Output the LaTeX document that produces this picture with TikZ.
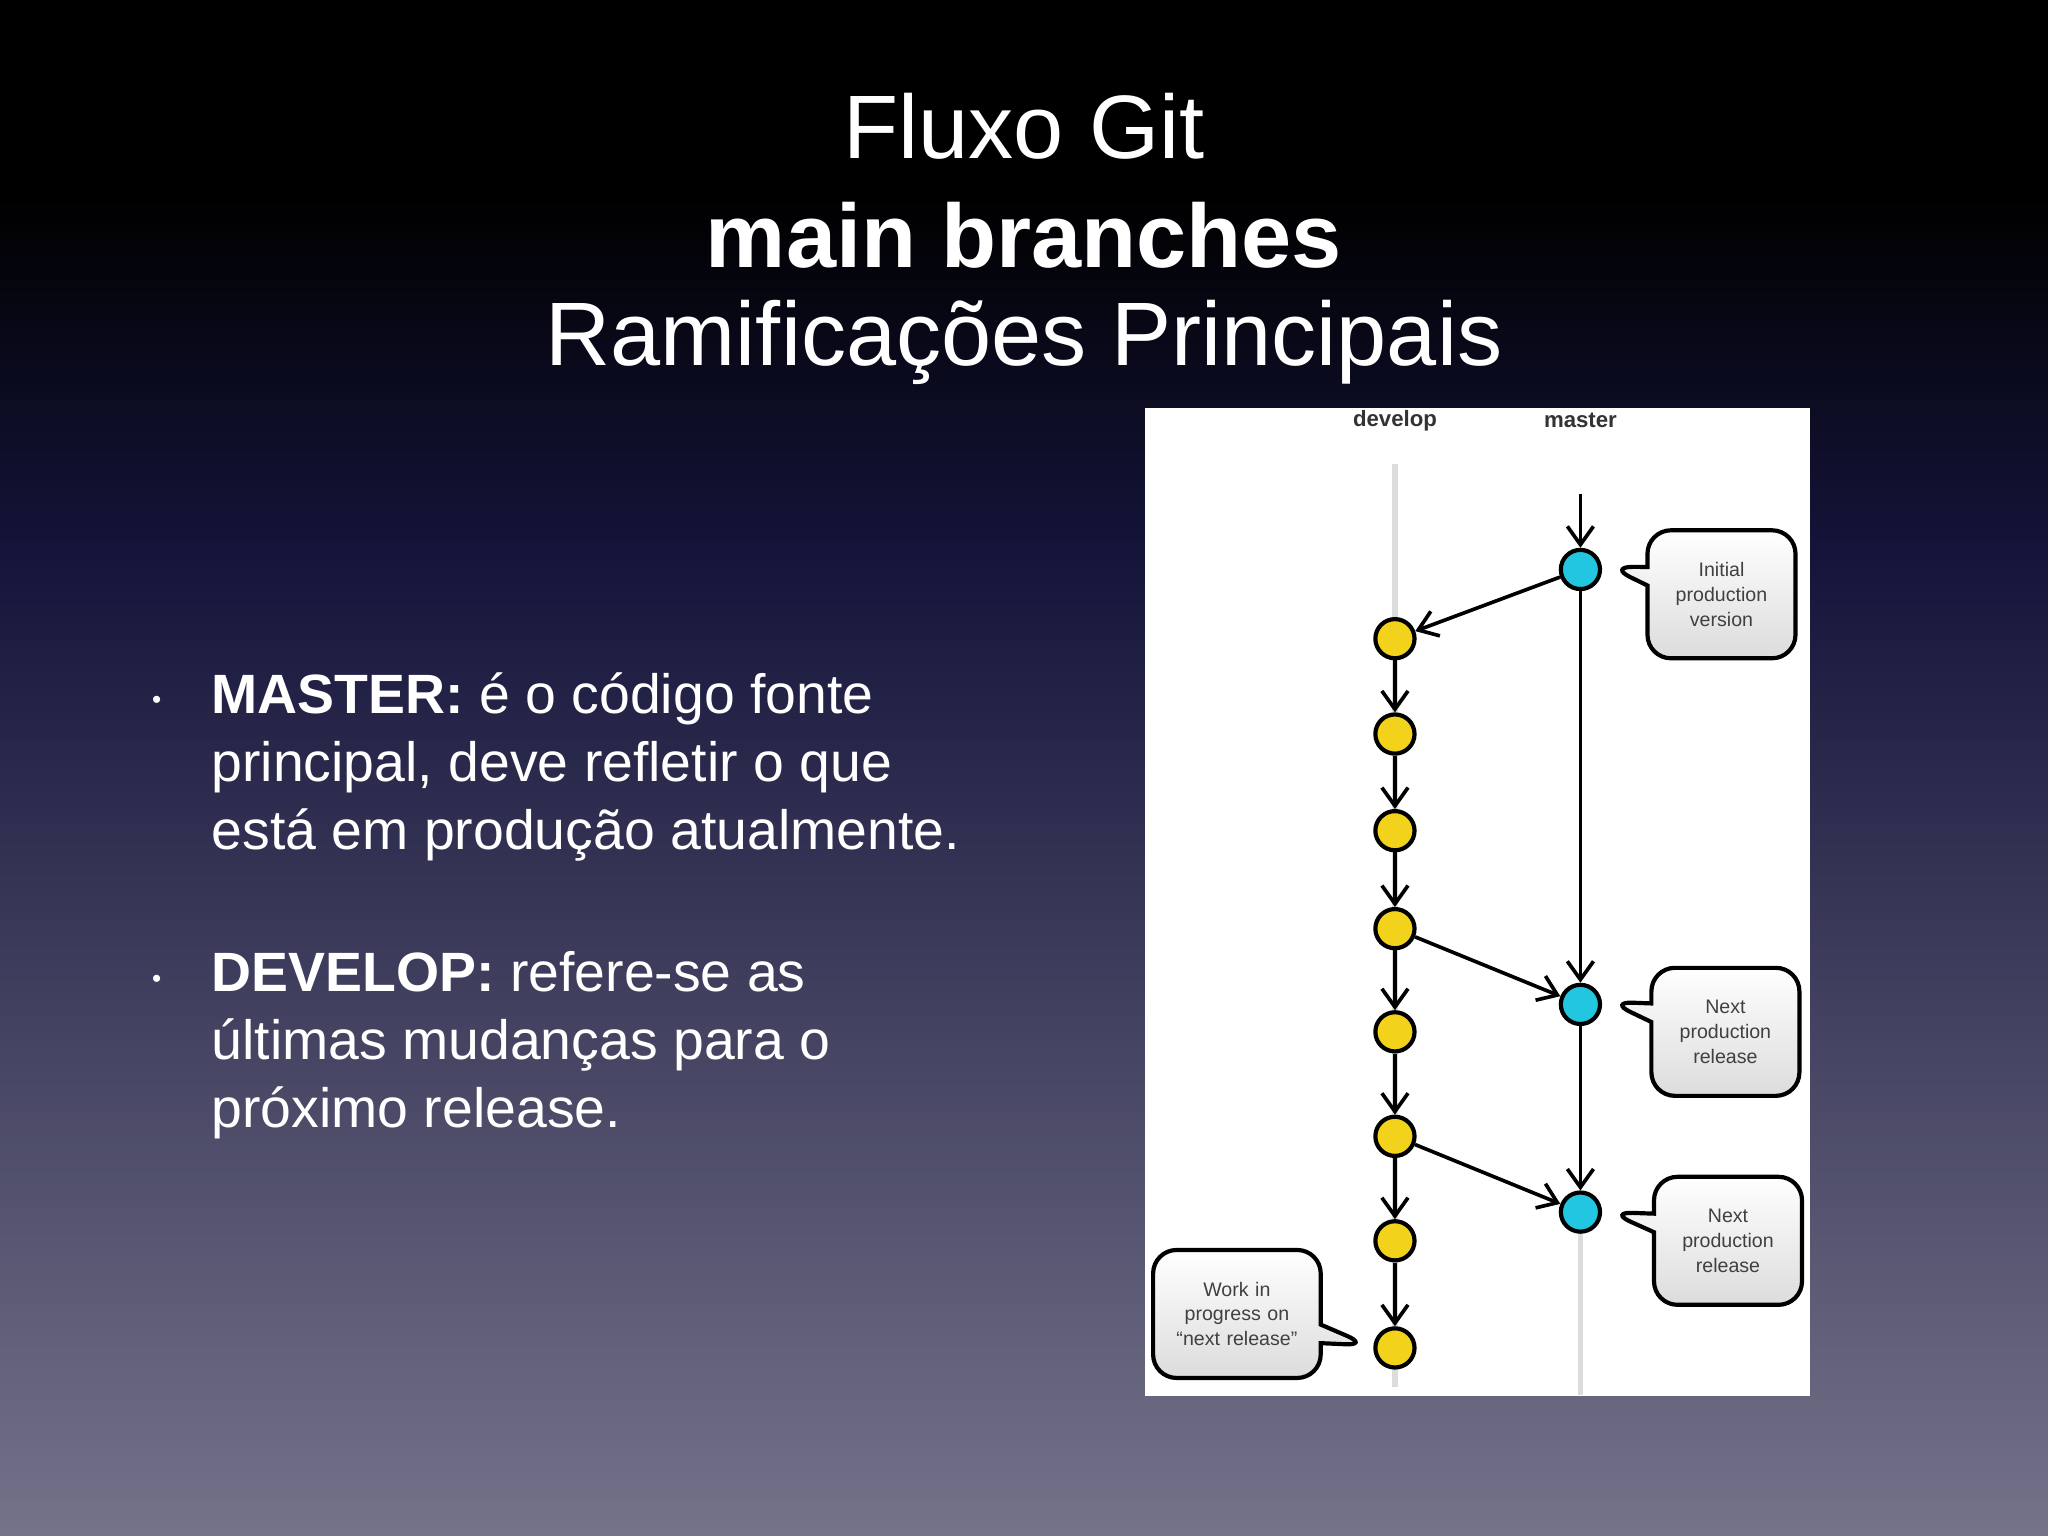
\documentclass[tikz,border=0pt]{standalone}
\usepackage{fontspec}
\setmainfont{Liberation Sans}
\usetikzlibrary{arrows.meta,shapes.callouts}
\definecolor{bgtop}{HTML}{000000}
\definecolor{bgmid}{HTML}{14143A}
\definecolor{bgbot}{HTML}{75738A}
\definecolor{dy}{HTML}{F2D21A}
\definecolor{mc}{HTML}{22C6E0}
\definecolor{cg}{HTML}{DCDCDC}
\setlength{\unitlength}{0.5pt}
\tikzset{
  dev/.style={circle,draw=black,line width=1.6pt,fill=dy,minimum size=30\unitlength,inner sep=0pt},
  mas/.style={circle,draw=black,line width=1.6pt,fill=mc,minimum size=30\unitlength,inner sep=0pt},
  arr/.style={-{Straight Barb[length=7pt,width=10pt]},line width=1.4pt,black},
  bubble/.style={rectangle callout,rounded corners=9pt,draw=black,line width=1.6pt,
     top color=white,bottom color=cg,text width=100\unitlength,minimum height=98\unitlength,
     align=center,font=\fontsize{7.5}{9.5}\selectfont,text=black!75},
  bl/.style={text=white,anchor=west,font=\fontsize{21.2}{26}\selectfont,align=left}
}
\begin{document}
\begin{tikzpicture}[x=0.5pt,y=-0.5pt]
\useasboundingbox (0,0) rectangle (1568,1176);
\fill[bgtop] (0,0) rectangle (1568,150);
\shade[top color=bgtop,bottom color=bgmid] (0,149) rectangle (1568,420);
\shade[top color=bgmid,bottom color=bgbot] (0,419) rectangle (1568,1176);
\node[text=white,font=\fontsize{34.5}{40}\selectfont] (t1) at (784,97) {Fluxo Git};
\node[text=white,font=\fontsize{34.5}{40}\selectfont\bfseries] (t2) at (784,180) {main branches};
\node[text=white,font=\fontsize{34.5}{40}\selectfont] (t3) at (784,262) {Ramificações Principais};
\node[text=white] (b1) at (120,538) {\textbullet};
\node[bl] (p1) at (155,587) {\textbf{MASTER:} é o código fonte\\principal, deve refletir o que\\está em produção atualmente.};
\node[text=white] (b2) at (120,751) {\textbullet};
\node[bl] (p2) at (155,800) {\textbf{DEVELOP:} refere-se as\\últimas mudanças para o\\próximo release.};
% panel
\fill[white] (877,312) rectangle (1386,1069);
\node[font=\fontsize{8.5}{10}\selectfont\bfseries,text=black!80] (ld) at (1068,322) {develop};
\node[font=\fontsize{8.5}{10}\selectfont\bfseries,text=black!80] (lm) at (1210,322) {master};
\draw[cg,line width=2pt] (1068,355) -- (1068,1062);
\draw[cg,line width=2pt] (1210,940) -- (1210,1068);
\coordinate (mtop) at (1210,378);
\foreach \i/\y in {1/489,2/562,3/636,4/711,5/790,6/870,7/950,8/1032}
  \node[dev] (d\i) at (1068,\y) {};
\node[mas] (m1) at (1210,436) {};
\node[mas] (m2) at (1210,769) {};
\node[mas] (m3) at (1210,928) {};
\draw[arr] (mtop) -- (m1);
\draw[arr] (m1) -- (m2);
\draw[arr] (m2) -- (m3);
\draw[arr] (m1) -- (d1);
\draw[arr] (d4) -- (m2);
\draw[arr] (d6) -- (m3);
\foreach \a/\b in {1/2,2/3,3/4,4/5,5/6,6/7,7/8}
  \draw[arr] (d\a) -- (d\b);
\node[bubble,callout absolute pointer={(1232,434)}] (c1) at (1318,455) {Initial\\production\\version};
\node[bubble,callout absolute pointer={(1232,767)}] (c2) at (1321,790) {Next\\production\\release};
\node[bubble,callout absolute pointer={(1232,928)}] (c3) at (1323,950) {Next\\production\\release};
\node[bubble,text width=115\unitlength,callout absolute pointer={(1048,1030)}] (c4) at (947,1006) {Work in\\progress on\\“next release”};
\end{tikzpicture}
\end{document}
